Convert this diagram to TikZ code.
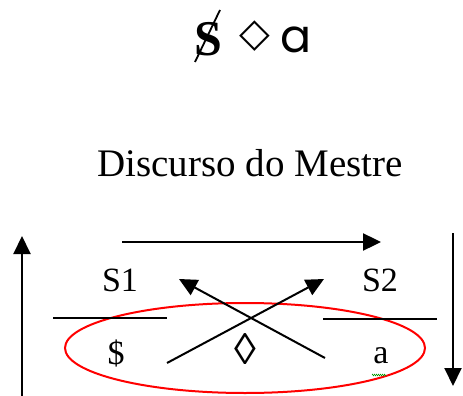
\documentclass[tikz,border=0pt]{standalone}
\usepackage{fontspec}
\setmainfont{Liberation Serif}
\newfontfamily\symfont{DejaVu Sans}
\newfontfamily\popfont{Poppins}
\usetikzlibrary{arrows.meta,decorations.pathmorphing}
\begin{document}
\begin{tikzpicture}[x=1pt,y=-1pt,
  lbl/.style={inner sep=0pt,font=\fontsize{34}{34}\selectfont},
  arr/.style={draw=black,line width=2pt,-{Triangle[length=18pt,width=17pt]}},
  bar/.style={draw=black,line width=1.6pt}]
\useasboundingbox (0,0) rectangle (463,396);
% top formula
\node[inner sep=0pt,font=\bfseries\fontsize{50}{50}\selectfont] (S) at (208,39) {S};
\draw[line width=1.8pt] (220,10) -- (195,62);
\node[inner sep=0pt,font=\symfont\bfseries\fontsize{40}{40}\selectfont] (dia) at (255,36) {◇};
\node[inner sep=0pt,font=\popfont\fontsize{46}{46}\selectfont] (a1) at (296,40) {a};
% title
\node[inner sep=0pt,font=\fontsize{39}{39}\selectfont] (title) at (250,163) {Discurso do Mestre};
% red ellipse
\draw[red,line width=2pt] (245,348) ellipse [x radius=180,y radius=45];
% labels
\node[lbl] (S1) at (120,280) {S1};
\node[lbl] (S2) at (380,280) {S2};
\node[lbl] (bS) at (116,353) {\$};
\node[inner sep=0pt,font=\fontsize{44}{44}\selectfont] (loz) at (245,349) {◊};
\node[lbl] (ba) at (381,356) {a};
\draw[green!60!black,line width=0.5pt,decorate,decoration={zigzag,amplitude=0.8pt,segment length=2pt}] (372,375) -- (386,375);
% bars
\coordinate (l1) at (53,318); \coordinate (l2) at (167,318);
\coordinate (r1) at (323,319); \coordinate (r2) at (437,319);
\draw[bar] (l1) -- (l2);
\draw[bar] (r1) -- (r2);
% outer arrows
\coordinate (upA) at (22,396); \coordinate (upB) at (22,236);
\coordinate (topA) at (122,242); \coordinate (topB) at (381,242);
\coordinate (dnA) at (453,233); \coordinate (dnB) at (453,386);
\draw[arr] (upA) -- (upB);
\draw[arr,line width=2.4pt] (topA) -- (topB);
\draw[arr] (dnA) -- (dnB);
% crossing arrows
\coordinate (c1a) at (325,358); \coordinate (c1b) at (179,279);
\coordinate (c2a) at (167,363); \coordinate (c2b) at (324,279);
\draw[arr] (c1a) -- (c1b);
\draw[arr] (c2a) -- (c2b);
\end{tikzpicture}
\end{document}
